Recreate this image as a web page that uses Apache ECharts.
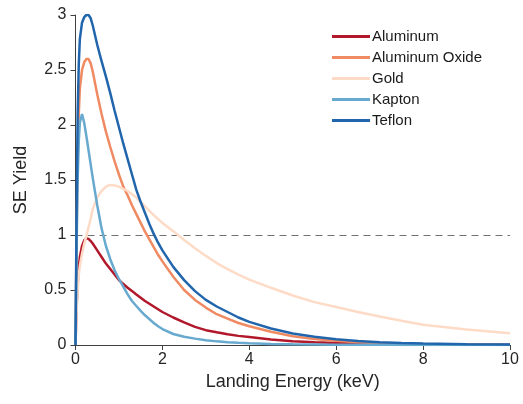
<!DOCTYPE html>
<html>
<head>
<meta charset="utf-8">
<script src="https://cdn.jsdelivr.net/npm/echarts@6/dist/echarts.min.js"></script>
<style>
  html, body { margin: 0; padding: 0; background: #fff; }
  #chart { width: 523px; height: 404px; }
</style>
</head>
<body>
<div id="chart"></div>
<script>
// values, landing energy in keV -> SE yield
const names = ['Aluminum', 'Aluminum Oxide', 'Gold', 'Kapton', 'Teflon'];
const colors = ['#b2182b', '#ef8a62', '#fddbc7', '#67a9cf', '#2166ac'];

const energy = [0, 0.025, 0.05, 0.075, 0.1, 0.15, 0.2, 0.25, 0.3, 0.35, 0.4, 0.5, 0.6, 0.7, 0.8, 0.9,
  1.0, 1.1, 1.2, 1.3, 1.4, 1.5, 1.6, 1.7, 1.8, 1.9, 2.0, 2.25, 2.5, 2.75, 3.0, 3.25, 3.5, 3.75,
  4.0, 4.5, 5.0, 5.5, 6.0, 6.5, 7.0, 7.5, 8.0, 9.0, 10.0];

const aluminum = [0, 0.35, 0.55, 0.7, 0.8, 0.9, 0.95, 0.97, 0.965, 0.945, 0.92, 0.86, 0.8, 0.74, 0.69, 0.64,
  0.59, 0.555, 0.52, 0.49, 0.46, 0.43, 0.4, 0.375, 0.35, 0.325, 0.3, 0.25, 0.205, 0.165, 0.135, 0.115, 0.097, 0.083,
  0.072, 0.05, 0.035, 0.025, 0.018, 0.013, 0.009, 0.007, 0.005, 0.003, 0.002];

const aluminumOxide = [0, 1.0, 1.7, 2.1, 2.33, 2.5, 2.57, 2.6, 2.6, 2.56, 2.48, 2.28, 2.1, 1.94, 1.8, 1.67,
  1.55, 1.44, 1.36, 1.27, 1.19, 1.11, 1.03, 0.96, 0.89, 0.82, 0.76, 0.62, 0.5, 0.41, 0.34, 0.28, 0.24, 0.2,
  0.17, 0.12, 0.08, 0.055, 0.038, 0.026, 0.018, 0.012, 0.009, 0.005, 0.003];

const gold = [0, 0.3, 0.5, 0.63, 0.72, 0.83, 0.92, 0.99, 1.07, 1.15, 1.24, 1.34, 1.4, 1.44, 1.455, 1.45,
  1.44, 1.42, 1.4, 1.37, 1.34, 1.3, 1.26, 1.22, 1.18, 1.145, 1.11, 1.035, 0.955, 0.88, 0.81, 0.745, 0.69, 0.64,
  0.595, 0.52, 0.45, 0.39, 0.345, 0.3, 0.26, 0.22, 0.185, 0.14, 0.106];

const kapton = [0, 0.9, 1.5, 1.85, 2.02, 2.1, 2.02, 1.9, 1.77, 1.64, 1.51, 1.27, 1.06, 0.9, 0.78, 0.68,
  0.6, 0.53, 0.46, 0.4, 0.355, 0.31, 0.27, 0.235, 0.2, 0.17, 0.145, 0.1, 0.075, 0.058, 0.043, 0.033, 0.026, 0.02,
  0.016, 0.01, 0.007, 0.005, 0.003, 0.002, 0.002, 0.001, 0.001, 0.0005, 0.0003];

const teflon = [0, 1.2, 2.1, 2.55, 2.78, 2.93, 2.98, 3.0, 3.0, 2.97, 2.9, 2.73, 2.58, 2.44, 2.29, 2.13,
  1.98, 1.83, 1.69, 1.55, 1.41, 1.3, 1.2, 1.1, 1.01, 0.93, 0.86, 0.71, 0.59, 0.49, 0.41, 0.35, 0.3, 0.25,
  0.21, 0.15, 0.105, 0.075, 0.052, 0.036, 0.025, 0.018, 0.013, 0.007, 0.004];

const xTicks = [0, 2, 4, 6, 8, 10];
const yTicks = [0, 0.5, 1, 1.5, 2, 2.5, 3];
const refLine = 1;

const yields = [aluminum, aluminumOxide, gold, kapton, teflon];

const chart = echarts.init(document.getElementById('chart'));

const font = 'Liberation Sans, Arial, sans-serif';

const series = names.map((name, i) => ({
  name,
  type: 'line',
  smooth: false,
  showSymbol: false,
  symbol: 'none',
  lineStyle: { width: 2.5, color: colors[i] },
  itemStyle: { color: colors[i] },
  data: energy.map((e, j) => [e, yields[i][j]]),
  z: 3 + i,
}));

// dashed reference line at yield = 1
series[0].markLine = {
  silent: true,
  symbol: 'none',
  label: { show: false },
  lineStyle: { type: [7, 5], color: '#707070', width: 1 },
  data: [{ yAxis: refLine }],
  z: 2,
};

const option = {
  animation: false,
  grid: { left: 75.5, right: 13, top: 15, bottom: 59 },
  legend: {
    orient: 'vertical',
    left: 327,
    top: 23,
    icon: 'rect',
    itemWidth: 38,
    itemHeight: 3,
    itemGap: 4,
    data: names,
    textStyle: { fontFamily: font, fontSize: 15, lineHeight: 17, color: '#1a1a1a', padding: [0, 0, 0, -3] },
  },
  xAxis: {
    type: 'value',
    min: xTicks[0],
    max: xTicks[xTicks.length - 1],
    interval: 2,
    name: 'Landing Energy (keV)',
    nameLocation: 'middle',
    nameGap: 27,
    nameTextStyle: { fontFamily: font, fontSize: 18, color: '#262626' },
    axisLine: { lineStyle: { color: '#404040', width: 1 } },
    axisTick: { show: true, length: 5, lineStyle: { color: '#404040' } },
    axisLabel: { fontFamily: font, fontSize: 16, color: '#262626', margin: 7 },
    splitLine: { show: false },
  },
  yAxis: {
    type: 'value',
    min: yTicks[0],
    max: yTicks[yTicks.length - 1],
    interval: 0.5,
    name: 'SE Yield',
    nameLocation: 'middle',
    nameGap: 45,
    nameTextStyle: { fontFamily: font, fontSize: 18, color: '#262626' },
    axisLine: { show: true, lineStyle: { color: '#404040', width: 1 } },
    axisTick: { show: true, length: 5, lineStyle: { color: '#404040' } },
    axisLabel: { fontFamily: font, fontSize: 16, color: '#262626', margin: 9 },
    splitLine: { show: false },
  },
  series,
};

chart.setOption(option);
</script>
</body>
</html>
